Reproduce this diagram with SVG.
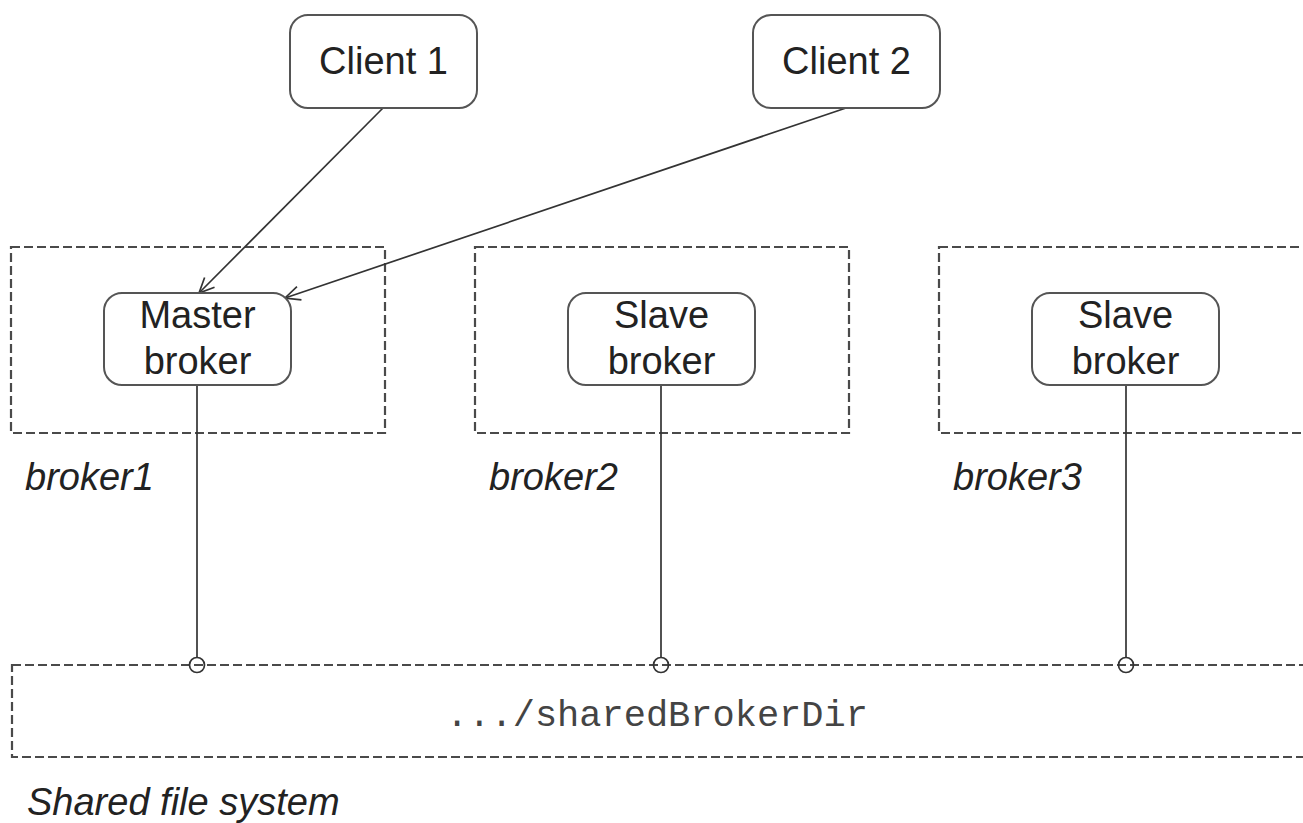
<svg xmlns="http://www.w3.org/2000/svg" width="1303" height="823" viewBox="0 0 1303 823">
<style>
.node{fill:#fff;stroke:#555;stroke-width:2}
.frame{fill:none;stroke:#4a4a4a;stroke-width:2.2;stroke-dasharray:9 4}
.lbl{font-family:"Liberation Sans",Arial,sans-serif;font-size:38px;fill:#222;text-anchor:middle}
.it{font-family:"Liberation Sans",Arial,sans-serif;font-size:38px;font-style:italic;fill:#222}
.mono{font-family:"Liberation Mono","Courier New",monospace;font-size:37px;fill:#444;text-anchor:middle}
.conn{stroke:#333;stroke-width:1.7;fill:none}
</style>
<defs>
<marker id="arr" markerWidth="20" markerHeight="20" refX="17" refY="10" orient="auto" markerUnits="userSpaceOnUse">
<path d="M2,3 L17,10 L2,17" fill="none" stroke="#333" stroke-width="1.7"/>
</marker>
</defs>
<g id="frame-broker1"><rect class="frame" x="11" y="247" width="374" height="186"/><text class="it" x="25" y="490">broker1</text></g>
<g id="frame-broker2"><rect class="frame" x="475" y="247" width="374" height="186"/><text class="it" x="489" y="490">broker2</text></g>
<g id="frame-broker3"><rect class="frame" x="939" y="247" width="400" height="186"/><text class="it" x="953" y="490">broker3</text></g>
<g id="shared-fs"><rect class="frame" x="12" y="665" width="1400" height="92"/><text class="mono" x="657" y="726">.../sharedBrokerDir</text><text class="it" x="27" y="815">Shared file system</text></g>
<g id="connectors">
<line class="conn" x1="383" y1="108" x2="199" y2="293" marker-end="url(#arr)"/>
<line class="conn" x1="846" y1="108" x2="285" y2="298" marker-end="url(#arr)"/>
<line class="conn" x1="197" y1="385" x2="197" y2="658"/>
<line class="conn" x1="661" y1="385" x2="661" y2="658"/>
<line class="conn" x1="1126" y1="385" x2="1126" y2="658"/>
<circle class="conn" cx="197" cy="665" r="7.5" fill="#fff"/>
<circle class="conn" cx="661" cy="665" r="7.5" fill="#fff"/>
<circle class="conn" cx="1126" cy="665" r="7.5" fill="#fff"/>
</g>
<g id="client1"><rect class="node" x="290" y="15" width="187" height="93" rx="18"/><text class="lbl" x="383.5" y="74">Client 1</text></g>
<g id="client2"><rect class="node" x="753" y="15" width="187" height="93" rx="18"/><text class="lbl" x="846.5" y="74">Client 2</text></g>
<g id="master-broker"><rect class="node" x="104" y="293" width="187" height="92" rx="18"/><text class="lbl" x="197.5" y="328">Master</text><text class="lbl" x="197.5" y="374">broker</text></g>
<g id="slave-broker2"><rect class="node" x="568" y="293" width="187" height="92" rx="18"/><text class="lbl" x="661.5" y="328">Slave</text><text class="lbl" x="661.5" y="374">broker</text></g>
<g id="slave-broker3"><rect class="node" x="1032" y="293" width="187" height="92" rx="18"/><text class="lbl" x="1125.5" y="328">Slave</text><text class="lbl" x="1125.5" y="374">broker</text></g>
</svg>
